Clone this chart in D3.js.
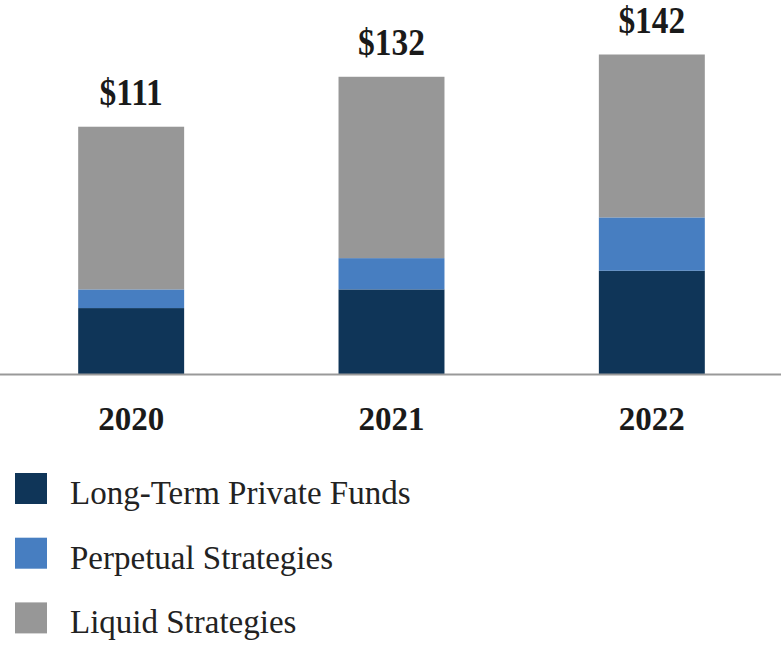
<!DOCTYPE html>
<html>
<head>
<meta charset="utf-8">
<script src="https://cdn.jsdelivr.net/npm/d3@7"></script>
<style>
  html, body { margin: 0; padding: 0; background: #fff; }
  svg { display: block; }
</style>
</head>
<body>
<svg id="chart" width="781" height="648"></svg>
<script>
const years = ["2020", "2021", "2022"];
const totalLabels = ["$111", "$132", "$142"];
const seriesNames = ["Long-Term Private Funds", "Perpetual Strategies", "Liquid Strategies"];
const longTermPrivateFunds = [29.3, 37.6, 45.9];
const perpetualStrategies = [8.3, 13.9, 23.7];
const liquidStrategies = [72.3, 80.6, 72.4];
const colors = ["#0f3558", "#477ec1", "#979797"];

const svg = d3.select("#chart");
const baseline = 374;

const x = d3.scaleBand().domain(years).range([1, 782]).paddingInner(0.593).paddingOuter(0.2965);
const y = d3.scaleLinear().domain([0, 150]).range([baseline, baseline - 150 * 2.25]);

const table = years.map((yr, i) => ({
  year: yr,
  "Long-Term Private Funds": longTermPrivateFunds[i],
  "Perpetual Strategies": perpetualStrategies[i],
  "Liquid Strategies": liquidStrategies[i]
}));
const stacked = d3.stack().keys(seriesNames)(table);

svg.append("g").selectAll("g").data(stacked).join("g")
  .attr("fill", (d, i) => colors[i])
  .selectAll("rect").data(d => d).join("rect")
  .attr("x", d => x(d.data.year))
  .attr("width", x.bandwidth())
  .attr("y", d => y(d[1]))
  .attr("height", d => y(d[0]) - y(d[1]));

// baseline axis
const axis = svg.append("g").attr("transform", `translate(0,${baseline})`)
  .call(d3.axisBottom(x).tickSize(0).tickPadding(0));
axis.select(".domain").attr("d", "M0,0.5H781").attr("stroke", "#999").attr("stroke-width", 2.2);
axis.selectAll(".tick text")
  .attr("y", 56)
  .attr("dy", 0)
  .attr("font-family", "Liberation Serif, Times New Roman, serif")
  .attr("font-weight", "bold")
  .attr("font-size", 33)
  .attr("fill", "#1a1a1a");

// total labels
const stackTops = years.map((yr, i) => longTermPrivateFunds[i] + perpetualStrategies[i] + liquidStrategies[i]);
svg.append("g").selectAll("text").data(years).join("text")
  .attr("transform", (d, i) => `translate(${x(d) + x.bandwidth() / 2},${y(stackTops[i]) - 22}) scale(0.88,1)`)
  .attr("text-anchor", "middle")
  .attr("font-family", "Liberation Serif, Times New Roman, serif")
  .attr("font-weight", "bold")
  .attr("font-size", 38)
  .attr("fill", "#1a1a1a")
  .text((d, i) => totalLabels[i]);

// legend
const legend = svg.append("g").selectAll("g").data(seriesNames).join("g")
  .attr("transform", (d, i) => `translate(15,${473 + i * 64.7})`);
legend.append("rect").attr("width", 32).attr("height", 31).attr("fill", (d, i) => colors[i]);
legend.append("text")
  .attr("x", 55).attr("y", 31)
  .attr("font-family", "Liberation Serif, Times New Roman, serif")
  .attr("font-size", 33)
  .attr("fill", "#222")
  .text(d => d);
</script>
</body>
</html>
